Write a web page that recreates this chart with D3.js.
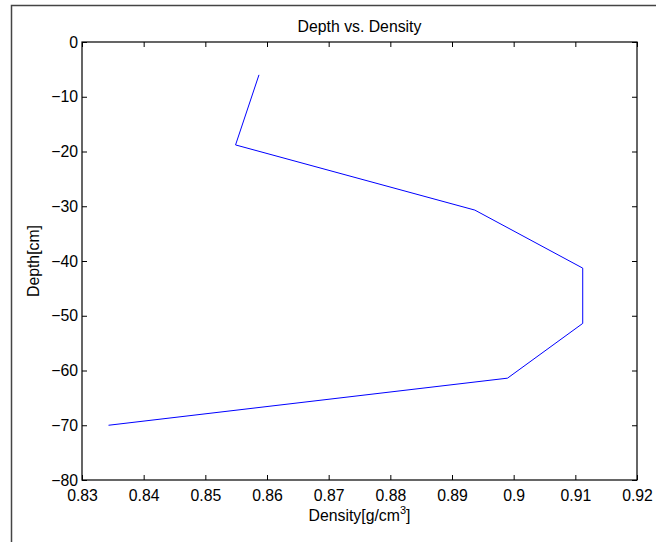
<!DOCTYPE html>
<html><head><meta charset="utf-8">
<script src="https://d3js.org/d3.v7.min.js"></script>
<style>body{margin:0;background:#fff}svg{display:block}text{font-family:"Liberation Sans",Arial,sans-serif}</style>
</head><body>
<script>
const density = [0.8587, 0.8549, 0.8937, 0.9112, 0.9112, 0.8990, 0.8343];
const depth = [-6, -18.8, -30.7, -41.3, -51.4, -61.4, -70];
const xTicks = [0.83, 0.84, 0.85, 0.86, 0.87, 0.88, 0.89, 0.9, 0.91, 0.92];
const yTicks = [0, -10, -20, -30, -40, -50, -60, -70, -80];
const title = "Depth vs. Density";

const W = 656, H = 542;
const m = {left: 82, top: 42, right: 637, bottom: 480};
const fs = 15.8;
const svg = d3.select("body").append("svg").attr("width", W).attr("height", H);

// outer figure frame
svg.append("path").attr("d", `M11.5,${H} V5.5 H${W}`).attr("fill", "none").attr("stroke", "#444").attr("stroke-width", 1.5);

const x = d3.scaleLinear().domain([0.83, 0.92]).range([m.left, m.right]);
const y = d3.scaleLinear().domain([-80, 0]).range([m.bottom, m.top]);

const fmtX = d => d3.format("")(+d.toFixed(2));
const fmtY = d => String(d).replace("-", "\u2212");

const g = svg.append("g");
// bottom axis
g.append("g").attr("transform", `translate(0,${m.bottom})`)
  .call(d3.axisBottom(x).tickValues(xTicks).tickSize(-5).tickPadding(10).tickFormat(fmtX))
  .call(a => a.select(".domain").remove());
// top axis
g.append("g").attr("transform", `translate(0,${m.top})`)
  .call(d3.axisTop(x).tickValues(xTicks).tickSize(-5).tickFormat(""))
  .call(a => a.select(".domain").remove());
// left axis
g.append("g").attr("transform", `translate(${m.left},0)`)
  .call(d3.axisLeft(y).tickValues(yTicks).tickSize(-5).tickPadding(4).tickFormat(fmtY))
  .call(a => a.select(".domain").remove());
// right axis
g.append("g").attr("transform", `translate(${m.right},0)`)
  .call(d3.axisRight(y).tickValues(yTicks).tickSize(-5).tickFormat(""))
  .call(a => a.select(".domain").remove());

g.selectAll(".tick line").attr("stroke", "#000");
g.selectAll(".tick text").attr("font-size", fs).attr("fill", "#000").attr("font-family", '"Liberation Sans",Arial,sans-serif');

// box
svg.append("rect").attr("x", m.left).attr("y", m.top)
  .attr("width", m.right - m.left).attr("height", m.bottom - m.top)
  .attr("fill", "none").attr("stroke", "#000").attr("stroke-width", 1.2);

// line
const pts = density.map((d, i) => [d, depth[i]]);
svg.append("path").datum(pts)
  .attr("d", d3.line().x(d => x(d[0])).y(d => y(d[1])))
  .attr("fill", "none").attr("stroke", "#0000ff").attr("stroke-width", 1);

// title
svg.append("text").attr("x", (m.left + m.right) / 2).attr("y", 32)
  .attr("text-anchor", "middle").attr("font-size", fs).text(title);

// x label
const xl = svg.append("text").attr("x", (m.left + m.right) / 2).attr("y", 521)
  .attr("text-anchor", "middle").attr("font-size", fs);
xl.append("tspan").text("Density[g/cm");
xl.append("tspan").attr("dy", -7).attr("font-size", 11).text("3");
xl.append("tspan").attr("dy", 7).text("]");

// y label
svg.append("text").attr("transform", `translate(39,${(m.top + m.bottom) / 2}) rotate(-90)`)
  .attr("text-anchor", "middle").attr("font-size", fs).text("Depth[cm]");
</script>
</body></html>
